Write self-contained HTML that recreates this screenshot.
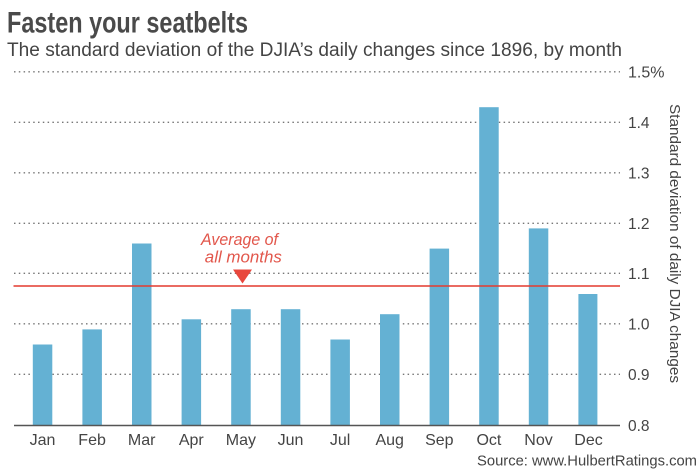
<!DOCTYPE html>
<html>
<head>
<meta charset="utf-8">
<style>
  html, body { margin:0; padding:0; background:#fff; }
  svg { display:block; }
  text { font-family: "Liberation Sans", "DejaVu Sans", sans-serif; }
</style>
</head>
<body>
<svg width="700" height="471" viewBox="0 0 700 471" xmlns="http://www.w3.org/2000/svg">
  <rect width="700" height="471" fill="#ffffff"/>

  <!-- Title -->
  <text x="7" y="32.7" font-size="30" font-weight="bold" fill="#4a4a4a" textLength="241" lengthAdjust="spacingAndGlyphs">Fasten your seatbelts</text>
  <text x="7" y="56" font-size="19" fill="#444" textLength="615" lengthAdjust="spacingAndGlyphs">The standard deviation of the DJIA’s daily changes since 1896, by month</text>

  <!-- Gridlines -->
  <g stroke="#777" stroke-width="1.4" stroke-dasharray="1.5 3.3" fill="none">
    <line x1="14" y1="71.8" x2="620" y2="71.8"/>
    <line x1="14" y1="122.3" x2="620" y2="122.3"/>
    <line x1="14" y1="172.8" x2="620" y2="172.8"/>
    <line x1="14" y1="223.3" x2="620" y2="223.3"/>
    <line x1="14" y1="273.3" x2="620" y2="273.3"/>
    <line x1="14" y1="323.8" x2="620" y2="323.8"/>
    <line x1="14" y1="374.3" x2="620" y2="374.3"/>
  </g>

  <!-- Tick labels -->
  <text x="628" y="77.5" font-size="16" fill="#444">1.5%</text>
  <g font-size="15.5" fill="#444">
    <text x="628" y="127.8">1.4</text>
    <text x="628" y="178.3">1.3</text>
    <text x="628" y="228.8">1.2</text>
    <text x="628" y="278.8">1.1</text>
    <text x="628" y="329.3">1.0</text>
    <text x="628" y="379.8">0.9</text>
    <text x="628" y="430.8">0.8</text>
  </g>

  <!-- Bars -->
  <g fill="#64b1d3">
    <rect x="32.8" y="344.5" width="19.5" height="80.8"/>
    <rect x="82.4" y="329.4" width="19.5" height="95.9"/>
    <rect x="132.0" y="243.5" width="19.5" height="181.8"/>
    <rect x="181.6" y="319.3" width="19.5" height="106.0"/>
    <rect x="231.2" y="309.2" width="19.5" height="116.1"/>
    <rect x="280.8" y="309.2" width="19.5" height="116.1"/>
    <rect x="330.4" y="339.5" width="19.5" height="85.8"/>
    <rect x="380.0" y="314.2" width="19.5" height="111.1"/>
    <rect x="429.6" y="248.6" width="19.5" height="176.7"/>
    <rect x="479.2" y="107.2" width="19.5" height="318.1"/>
    <rect x="528.8" y="228.4" width="19.5" height="196.9"/>
    <rect x="578.4" y="294.0" width="19" height="131.3"/>
  </g>

  <!-- Baseline -->
  <line x1="14" y1="425.5" x2="620" y2="425.5" stroke="#555" stroke-width="1.5"/>

  <!-- Average line & annotation -->
  <line x1="13.5" y1="286" x2="620" y2="286" stroke="#e33a2f" stroke-width="1.6"/>
  <polygon points="233,269.5 252,269.5 242.5,283.5" fill="#e8473c"/>
  <g font-size="17" font-style="italic" fill="#e2574c" text-anchor="middle">
    <text x="239.5" y="245" textLength="77" lengthAdjust="spacingAndGlyphs">Average of</text>
    <text x="243.3" y="262.7" textLength="77" lengthAdjust="spacingAndGlyphs">all months</text>
  </g>

  <!-- Month labels -->
  <g font-size="16" fill="#444" text-anchor="middle">
    <text x="42.5" y="445">Jan</text>
    <text x="92.1" y="445">Feb</text>
    <text x="141.7" y="445">Mar</text>
    <text x="191.3" y="445">Apr</text>
    <text x="240.9" y="445">May</text>
    <text x="290.5" y="445">Jun</text>
    <text x="340.1" y="445">Jul</text>
    <text x="389.7" y="445">Aug</text>
    <text x="439.3" y="445">Sep</text>
    <text x="488.9" y="445">Oct</text>
    <text x="538.5" y="445">Nov</text>
    <text x="588.5" y="445">Dec</text>
  </g>

  <!-- Y axis title -->
  <text transform="translate(670,104) rotate(90)" font-size="15" fill="#444" textLength="279" lengthAdjust="spacingAndGlyphs">Standard deviation of daily DJIA changes</text>

  <!-- Source -->
  <text x="477" y="465.7" font-size="14.5" fill="#444" textLength="220" lengthAdjust="spacingAndGlyphs">Source: www.HulbertRatings.com</text>
</svg>
</body>
</html>
